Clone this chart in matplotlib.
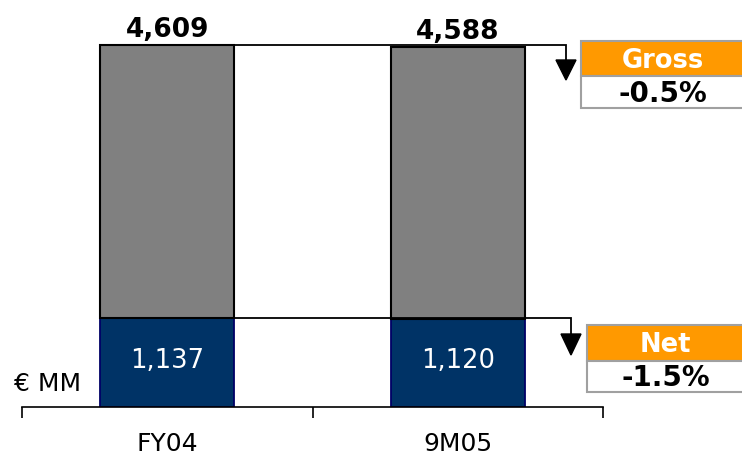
import matplotlib
matplotlib.use("Agg")
import matplotlib.pyplot as plt
from matplotlib.patches import Rectangle, Polygon

categories = ["FY04", "9M05"]
net_values = [1137, 1120]
gross_values = [4609, 4588]
net_labels = ["1,137", "1,120"]
gross_labels = ["4,609", "4,588"]
unit_label = "€ MM"
gross_title = "Gross"
gross_change = "-0.5%"
net_title = "Net"
net_change = "-1.5%"

plt.rcParams['font.family'] = ['DejaVu Sans']

W, H = 742, 456
fig = plt.figure(figsize=(W / 100, H / 100), dpi=100)

def fx(px):
    return px / W

def fy(py):
    return 1 - py / H

ax = fig.add_axes([fx(22), fy(408), fx(603) - fx(22), fy(0) - fy(408)])
ax.set_xlim(-0.5, 1.5)
px_per_y = 0.0785
ymax = 408 / px_per_y
ax.set_ylim(0, ymax)

x = list(range(len(categories)))
width = 0.46
navy = "#003366"
gray = "#808080"
orange = "#FF9900"

rest = [g - n for g, n in zip(gross_values, net_values)]
ax.bar(x, net_values, width=width, color=navy, edgecolor="#000066", linewidth=1.3, zorder=2)
ax.bar(x, rest, bottom=net_values, width=width, color=gray, edgecolor="black", linewidth=1.5, zorder=2)

for xi, g, gl, n, nl in zip(x, gross_values, gross_labels, net_values, net_labels):
    ax.text(xi, g + 40, gl, ha="center", va="bottom", fontsize=19, fontweight="bold", color="black")
    ax.text(xi, n * 0.53, nl, ha="center", va="center", fontsize=18.5, color="white")

px_per_x = 290.5
def dx(px):
    return (px - 22) / px_per_x - 0.5
def dy(py):
    return (408 - py) / px_per_y

def connector(yval, x_arrow, tip_val, head_h, head_w):
    x0 = x[0] + width / 2
    ax.plot([x0, x_arrow, x_arrow], [yval, yval, tip_val + head_h], color="black", lw=1.3,
            zorder=3, clip_on=False, solid_joinstyle="miter")
    tri = Polygon([[x_arrow - head_w / 2, tip_val + head_h], [x_arrow + head_w / 2, tip_val + head_h],
                   [x_arrow, tip_val]], closed=True, color="black", zorder=3, clip_on=False)
    ax.add_patch(tri)

connector(gross_values[0], dx(566), dy(81), 20 / px_per_y, 20 / px_per_x)
connector(net_values[0], dx(571), dy(356), 21 / px_per_y, 20 / px_per_x)

def box(left, top, mid, bottom, title, change):
    r1 = Rectangle((fx(left), fy(mid)), fx(W + 5) - fx(left), fy(top) - fy(mid),
                   transform=fig.transFigure, facecolor=orange, edgecolor="#a0a0a0", lw=1.5, clip_on=False)
    r2 = Rectangle((fx(left), fy(bottom)), fx(W + 5) - fx(left), fy(mid) - fy(bottom),
                   transform=fig.transFigure, facecolor="white", edgecolor="#a0a0a0", lw=1.5, clip_on=False)
    fig.patches.extend([r1, r2])
    cx = (left + W) / 2 + 1
    fig.text(fx(cx), fy((top + mid) / 2 + 1), title, ha="center", va="center", fontsize=18.5,
             fontweight="bold", color="white")
    fig.text(fx(cx), fy((mid + bottom) / 2 + 1), change, ha="center", va="center", fontsize=20,
             fontweight="bold", color="black")

box(581, 42, 77, 109, gross_title, gross_change)
box(587, 326, 362, 393, net_title, net_change)

fig.text(fx(14), fy(384), unit_label, ha="left", va="center", fontsize=18, color="black")

for s in ["top", "right", "left"]:
    ax.spines[s].set_visible(False)
ax.spines["bottom"].set_linewidth(1.2)
ax.set_yticks([])
ax.set_xticks(x)
ax.set_xticklabels(categories, fontsize=18)
ax.tick_params(axis="x", which="major", length=0, pad=17)
ax.set_xticks([-0.5, 0.5, 1.5], minor=True)
ax.tick_params(axis="x", which="minor", length=8, width=1.2, direction="out")

fig.savefig("out.png", dpi=100)
